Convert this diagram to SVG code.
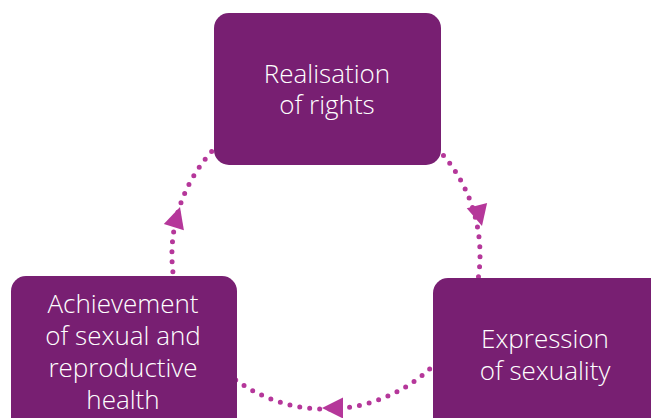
<svg xmlns="http://www.w3.org/2000/svg" xmlns:xlink="http://www.w3.org/1999/xlink" width="651" height="418" viewBox="0 0 651 418">
<style>
.box{fill:#781f72}
.lbl{font-family:"Open Sans",Lato,"Liberation Sans",sans-serif;font-weight:300;font-size:26px;fill:#ffffff;text-anchor:middle}
.dots{fill:none;stroke:#b5379a;stroke-width:5;stroke-linecap:round;stroke-dasharray:0 10}
.ah{fill:#b5379a}
</style>
<defs>
<polygon id="ah" points="0,0 -21,-10.5 -21,10.5"/>
</defs>
<rect width="651" height="418" fill="#ffffff"/>
<g id="connectors">
<path class="dots" d="M436.8,148 A154,154 0 0 1 477.7,281.7"/>
<path class="dots" d="M436.8,362 A154,154 0 0 1 219,366"/>
<path class="dots" d="M174.3,281.7 A154,154 0 0 1 219,144"/>
<use class="ah" xlink:href="#ah" transform="translate(482,226) rotate(76)"/>
<use class="ah" xlink:href="#ah" transform="translate(322,408) rotate(180)"/>
<use class="ah" xlink:href="#ah" transform="translate(180,207) rotate(-73)"/>
</g>
<g id="node-rights">
<rect class="box" x="214" y="13" width="227" height="152" rx="15"/>
<text class="lbl" x="327" y="83">Realisation</text>
<text class="lbl" x="327" y="114">of rights</text>
</g>
<g id="node-expression">
<rect class="box" x="433" y="278" width="240" height="160" rx="15"/>
<text class="lbl" x="545" y="348">Expression</text>
<text class="lbl" x="545" y="380">of sexuality</text>
</g>
<g id="node-health">
<rect class="box" x="11" y="276" width="226" height="160" rx="15"/>
<text class="lbl" x="123" y="313">Achievement</text>
<text class="lbl" x="123" y="345">of sexual and</text>
<text class="lbl" x="123" y="377">reproductive</text>
<text class="lbl" x="123" y="409">health</text>
</g>
</svg>
